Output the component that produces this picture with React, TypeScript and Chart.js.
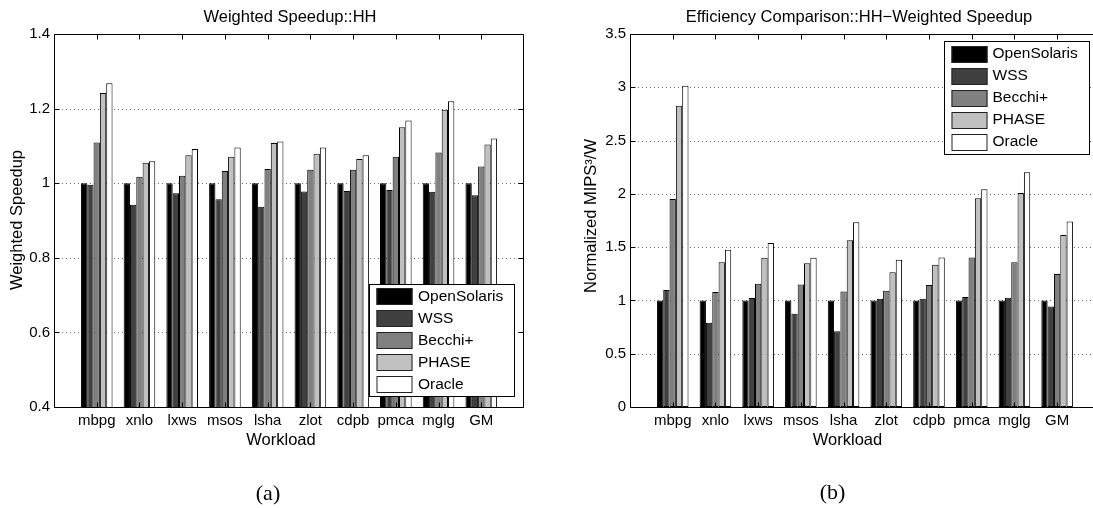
import React, { useEffect, useRef } from 'react';
import { Chart, registerables } from 'chart.js';

Chart.register(...registerables);
Chart.defaults.font.family = '"Liberation Sans", Arial, Helvetica, sans-serif';
Chart.defaults.color = '#000';

// ---------- data ----------
const categories = ['mbpg', 'xnlo', 'lxws', 'msos', 'lsha', 'zlot', 'cdpb', 'pmca', 'mglg', 'GM'];
const seriesNames = ['OpenSolaris', 'WSS', 'Becchi+', 'PHASE', 'Oracle'];

const speedupOpenSolaris = [1, 1, 1, 1, 1, 1, 1, 1, 1, 1];
const speedupWSS = [0.996, 0.942, 0.973, 0.957, 0.937, 0.978, 0.979, 0.982, 0.977, 0.968];
const speedupBecchi = [1.109, 1.017, 1.02, 1.033, 1.038, 1.036, 1.036, 1.071, 1.082, 1.045];
const speedupPHASE = [1.242, 1.055, 1.075, 1.071, 1.108, 1.079, 1.065, 1.15, 1.197, 1.104];
const speedupOracle = [1.268, 1.059, 1.092, 1.096, 1.112, 1.096, 1.075, 1.168, 1.22, 1.12];

const effOpenSolaris = [1, 1, 1, 1, 1, 1, 1, 1, 1, 1];
const effWSS = [1.097, 0.79, 1.022, 0.875, 0.71, 1.016, 1.016, 1.031, 1.025, 0.944];
const effBecchi = [1.952, 1.078, 1.156, 1.15, 1.084, 1.09, 1.144, 1.403, 1.359, 1.247];
const effPHASE = [2.826, 1.359, 1.4, 1.35, 1.565, 1.265, 1.334, 1.958, 2.008, 1.615];
const effOracle = [3.014, 1.475, 1.54, 1.4, 1.734, 1.381, 1.403, 2.043, 2.202, 1.74];

const speedupTicks = [0.4, 0.6, 0.8, 1, 1.2, 1.4];
const effTicks = [0, 0.5, 1, 1.5, 2, 2.5, 3, 3.5];

const fills = ['#000000', '#404040', '#808080', '#c0c0c0', '#ffffff'];

const SANS = '"Liberation Sans", Arial, Helvetica, sans-serif';
const SERIF = '"Liberation Serif", "Times New Roman", serif';

// ---------- MATLAB-like frame / grid / legend / text plugin ----------
const matlabPlugin = {
  id: 'matlab',
  beforeDatasetsDraw(chart: any) {
    const { ctx, chartArea: a, scales } = chart;
    const y = scales.y;
    ctx.save();
    ctx.strokeStyle = '#6a6a6a';
    ctx.lineWidth = 1;
    ctx.setLineDash([1, 3]);
    y.ticks.forEach((t: any) => {
      if (t.value <= y.min || t.value >= y.max) return;
      const py = Math.round(y.getPixelForValue(t.value)) + 0.5;
      ctx.beginPath();
      ctx.moveTo(a.left, py);
      ctx.lineTo(a.right, py);
      ctx.stroke();
    });
    ctx.restore();
  },
  afterDatasetsDraw(chart: any, _a: any, opts: any) {
    const { ctx, chartArea: a, scales } = chart;
    const x = scales.x;
    const y = scales.y;
    const tl = opts.tickLen;
    const L = Math.round(a.left) + 0.5;
    const T = Math.round(a.top) + 0.5;
    const B = Math.round(a.bottom) + 0.5;
    const R = Math.round(a.right) - 0.5;
    ctx.save();
    ctx.strokeStyle = '#000';
    ctx.lineWidth = 1;
    ctx.beginPath();
    ctx.moveTo(L, B);
    ctx.lineTo(L, T);
    ctx.lineTo(opts.rightBorder ? R : a.right, T);
    ctx.moveTo(L, B);
    ctx.lineTo(opts.rightBorder ? R : a.right, B);
    if (opts.rightBorder) {
      ctx.moveTo(R, T);
      ctx.lineTo(R, B);
    }
    x.ticks.forEach((t: any) => {
      const px = Math.round(x.getPixelForValue(t.value)) + 0.5;
      ctx.moveTo(px, B);
      ctx.lineTo(px, B - tl);
      ctx.moveTo(px, T);
      ctx.lineTo(px, T + tl);
    });
    y.ticks.forEach((t: any) => {
      const py = Math.round(y.getPixelForValue(t.value)) + 0.5;
      ctx.moveTo(L, py);
      ctx.lineTo(L + tl, py);
      if (opts.rightBorder) {
        ctx.moveTo(R, py);
        ctx.lineTo(R - tl, py);
      }
    });
    ctx.stroke();
    ctx.restore();
  },
  afterDraw(chart: any, _a: any, opts: any) {
    const { ctx } = chart;
    const lg = opts.legend;
    ctx.save();
    ctx.fillStyle = '#fff';
    ctx.fillRect(lg.x, lg.y, lg.w, lg.h);
    ctx.strokeStyle = '#000';
    ctx.lineWidth = 1;
    ctx.strokeRect(lg.x + 0.5, lg.y + 0.5, lg.w - 1, lg.h - 1);
    chart.data.datasets.forEach((ds: any, i: number) => {
      const cy = lg.y + lg.first + i * lg.step;
      const top = Math.round(cy - lg.swH / 2);
      ctx.fillStyle = ds.backgroundColor;
      ctx.fillRect(lg.x + lg.swX, top, lg.swW, lg.swH);
      ctx.strokeStyle = '#222';
      ctx.strokeRect(lg.x + lg.swX + 0.5, top + 0.5, lg.swW - 1, lg.swH - 1);
      ctx.fillStyle = '#000';
      ctx.font = `${lg.size}px ${SANS}`;
      ctx.textAlign = 'left';
      ctx.textBaseline = 'middle';
      ctx.fillText(ds.label, lg.x + lg.textX, cy);
    });
    ctx.restore();
    (opts.texts || []).forEach((t: any) => {
      ctx.save();
      ctx.font = `${t.size}px ${t.serif ? SERIF : SANS}`;
      ctx.fillStyle = '#000';
      ctx.textAlign = 'center';
      ctx.textBaseline = 'alphabetic';
      ctx.translate(t.x, t.y);
      if (t.rotate) ctx.rotate(-Math.PI / 2);
      ctx.fillText(t.text, 0, 0);
      ctx.restore();
    });
  },
};

function buildConfig(p: any) {
  return {
    type: 'bar',
    data: {
      datasets: p.series.map((vals: number[], k: number) => ({
        label: seriesNames[k],
        data: vals.map((v, i) => ({ x: i + 1, y: v })),
        backgroundColor: fills[k],
        borderColor: '#000',
        borderWidth: 1,
        borderSkipped: false,
        inflateAmount: 0,
        categoryPercentage: 0.74,
        barPercentage: 1,
      })),
    },
    options: {
      responsive: false,
      animation: false,
      events: [],
      layout: { padding: { left: 0, top: 34, right: p.padRight, bottom: 0 } },
      plugins: {
        legend: { display: false },
        tooltip: { enabled: false },
        title: { display: false },
        matlab: {
          tickLen: 5,
          rightBorder: p.rightBorder,
          legend: p.legend,
          texts: p.texts,
        },
      },
      scales: {
        x: {
          type: 'linear',
          min: 0,
          max: p.xMax,
          offset: false,
          grid: { display: false, drawTicks: false },
          border: { display: false },
          afterBuildTicks: (s: any) => {
            s.ticks = categories.map((_, i) => ({ value: i + 1 }));
          },
          afterFit: (s: any) => {
            s.height = 101;
          },
          ticks: {
            autoSkip: false,
            maxRotation: 0,
            minRotation: 0,
            padding: 5,
            color: '#000',
            font: { size: 15 },
            callback: (v: number) => categories[Math.round(v) - 1] ?? '',
          },
        },
        y: {
          type: 'linear',
          min: p.yTicks[0],
          max: p.yTicks[p.yTicks.length - 1],
          beginAtZero: false,
          grid: { display: false, drawTicks: false },
          border: { display: false },
          afterBuildTicks: (s: any) => {
            s.ticks = p.yTicks.map((v: number) => ({ value: v }));
          },
          afterFit: (s: any) => {
            s.width = p.yAxisWidth;
          },
          ticks: {
            padding: 4,
            color: '#000',
            font: { size: 15 },
            callback: (v: number) => String(v),
          },
        },
      },
    },
    plugins: [matlabPlugin],
  };
}

const leftPanel = {
  series: [speedupOpenSolaris, speedupWSS, speedupBecchi, speedupPHASE, speedupOracle],
  yTicks: speedupTicks,
  xMax: 11,
  yAxisWidth: 54,
  padRight: 16,
  rightBorder: true,
  legend: { x: 369, y: 284, w: 146, h: 113, first: 12.7, step: 22, swX: 7.5, swW: 36, swH: 17, textX: 49, size: 15.5 },
  texts: [
    { text: 'Weighted Speedup::HH', x: 290, y: 21.5, size: 16.5 },
    { text: 'Workload', x: 281, y: 445, size: 16.5 },
    { text: 'Weighted Speedup', x: 22, y: 220, size: 16.5, rotate: true },
    { text: '(a)', x: 268, y: 500, size: 22, serif: true },
  ],
};

const rightPanel = {
  series: [effOpenSolaris, effWSS, effBecchi, effPHASE, effOracle],
  yTicks: effTicks,
  xMax: 10.84,
  yAxisWidth: 90,
  padRight: 0,
  rightBorder: false,
  legend: { x: 404, y: 41, w: 146, h: 114, first: 13, step: 22, swX: 7.5, swW: 36, swH: 17, textX: 48.5, size: 15.5 },
  texts: [
    { text: 'Efficiency Comparison::HH\u2212Weighted Speedup', x: 319, y: 21.5, size: 16.5 },
    { text: 'Workload', x: 307.5, y: 445, size: 16.5 },
    { text: 'Normalized MIPS\u00b3/W', x: 56, y: 216, size: 16.5, rotate: true },
    { text: '(b)', x: 292.5, y: 499, size: 22, serif: true },
  ],
};

function Panel({ cfg, left, width }: { cfg: any; left: number; width: number }) {
  const ref = useRef<HTMLCanvasElement>(null);
  useEffect(() => {
    const chart = new Chart(ref.current as HTMLCanvasElement, buildConfig(cfg) as any);
    return () => chart.destroy();
  }, [cfg]);
  return (
    <canvas
      ref={ref}
      width={width}
      height={508}
      style={{ position: 'absolute', left, top: 0, width, height: 508, display: 'block' }}
    />
  );
}

export default function App() {
  return (
    <div
      style={{
        position: 'absolute',
        left: 0,
        top: 0,
        width: 1093,
        height: 508,
        overflow: 'hidden',
        background: '#fff',
      }}
    >
      <Panel cfg={leftPanel} left={0} width={540} />
      <Panel cfg={rightPanel} left={540} width={553} />
    </div>
  );
}
